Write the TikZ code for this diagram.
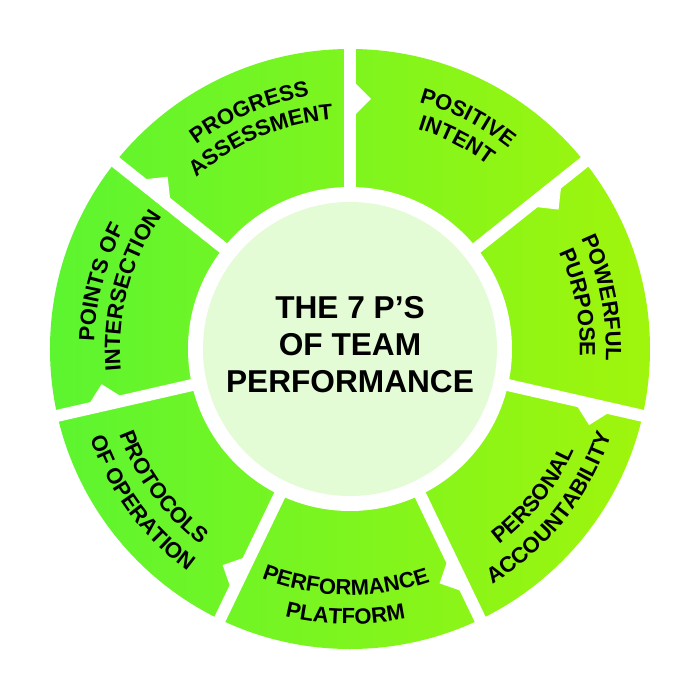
\documentclass[tikz,border=0pt]{standalone}
\usepackage{fontspec}
\setmainfont{Liberation Sans}
\usetikzlibrary{calc,decorations.text}
\definecolor{ringleft}{RGB}{92,245,48}
\definecolor{ringright}{RGB}{160,245,12}
\definecolor{hubgreen}{RGB}{227,252,213}
\newcommand\labelfont{\fontsize{12.5}{14}\selectfont\bfseries}
\tikzset{
  gap/.style={white, line width=0.24cm},
  notch/.style={fill=white},
  curvetext/.style={decorate, decoration={text along path, text align=center, text={|\labelfont|#1}}}
}
\begin{document}
\begin{tikzpicture}[x=0.02cm, y=0.02cm]
    \fill [white] (-350, -351) rectangle (350, 349);
    \useasboundingbox (-350, -351) rectangle (350, 349);
    \shade [left color=ringleft, right color=ringright, even odd rule] (0, 0) circle (300) (0, 0) circle (150);
    \draw [gap] (0, 0) -- (90:310);
    \draw [gap] (0, 0) -- (38.57:310);
    \draw [gap] (0, 0) -- (-12.86:310);
    \draw [gap] (0, 0) -- (-64.29:310);
    \draw [gap] (0, 0) -- (-115.71:310);
    \draw [gap] (0, 0) -- (-167.14:310);
    \draw [gap] (0, 0) -- (141.43:310);
    \fill [notch] ($(90:234)+(0:5)$) -- ($(90:250)+(0:21)$) -- ($(90:266)+(0:5)$) -- cycle;
    \fill [notch] ($(38.57:234)+(-51.43:5)$) -- ($(38.57:250)+(-51.43:21)$) -- ($(38.57:266)+(-51.43:5)$) -- cycle;
    \fill [notch] ($(-12.86:234)+(-102.86:5)$) -- ($(-12.86:250)+(-102.86:21)$) -- ($(-12.86:266)+(-102.86:5)$) -- cycle;
    \fill [notch] ($(-64.29:234)+(-154.29:5)$) -- ($(-64.29:250)+(-154.29:21)$) -- ($(-64.29:266)+(-154.29:5)$) -- cycle;
    \fill [notch] ($(-115.71:234)+(-205.71:5)$) -- ($(-115.71:250)+(-205.71:21)$) -- ($(-115.71:266)+(-205.71:5)$) -- cycle;
    \fill [notch] ($(-167.14:234)+(-257.14:5)$) -- ($(-167.14:250)+(-257.14:21)$) -- ($(-167.14:266)+(-257.14:5)$) -- cycle;
    \fill [notch] ($(141.43:234)+(51.43:5)$) -- ($(141.43:250)+(51.43:21)$) -- ($(141.43:266)+(51.43:5)$) -- cycle;
    \fill [white] (0, 0) circle (162);
    \fill [hubgreen] (0, 0) circle (147);
    \node (hub) [align=center, font=\fontsize{18}{21}\selectfont\bfseries] at (0, 4) {THE 7 P’S\\OF TEAM\\PERFORMANCE};
    \path [curvetext=POSITIVE] (88:256) arc [start angle=88, end angle=38, radius=256];
    \path [curvetext=INTENT] (88:230) arc [start angle=88, end angle=38, radius=230];
    \path [curvetext=POWERFUL] (36.5:256) arc [start angle=36.5, end angle=-13.5, radius=256];
    \path [curvetext=PURPOSE] (36.5:230) arc [start angle=36.5, end angle=-13.5, radius=230];
    \path [curvetext=PERSONAL] (-63.5:246) arc [start angle=-63.5, end angle=-13.5, radius=246];
    \path [curvetext=ACCOUNTABILITY] (-63.5:275) arc [start angle=-63.5, end angle=-13.5, radius=275];
    \path [curvetext=PERFORMANCE] (-116:246) arc [start angle=-116, end angle=-66, radius=246];
    \path [curvetext=PLATFORM] (-116:275) arc [start angle=-116, end angle=-66, radius=275];
    \path [curvetext=PROTOCOLS] (-168.5:246) arc [start angle=-168.5, end angle=-118.5, radius=246];
    \path [curvetext=OF OPERATION] (-168.5:275) arc [start angle=-168.5, end angle=-118.5, radius=275];
    \path [curvetext=POINTS OF] (190:256) arc [start angle=190, end angle=140, radius=256];
    \path [curvetext=INTERSECTION] (190:230) arc [start angle=190, end angle=140, radius=230];
    \path [curvetext=PROGRESS] (138:256) arc [start angle=138, end angle=88, radius=256];
    \path [curvetext=ASSESSMENT] (138:230) arc [start angle=138, end angle=88, radius=230];
\end{tikzpicture}
\end{document}
